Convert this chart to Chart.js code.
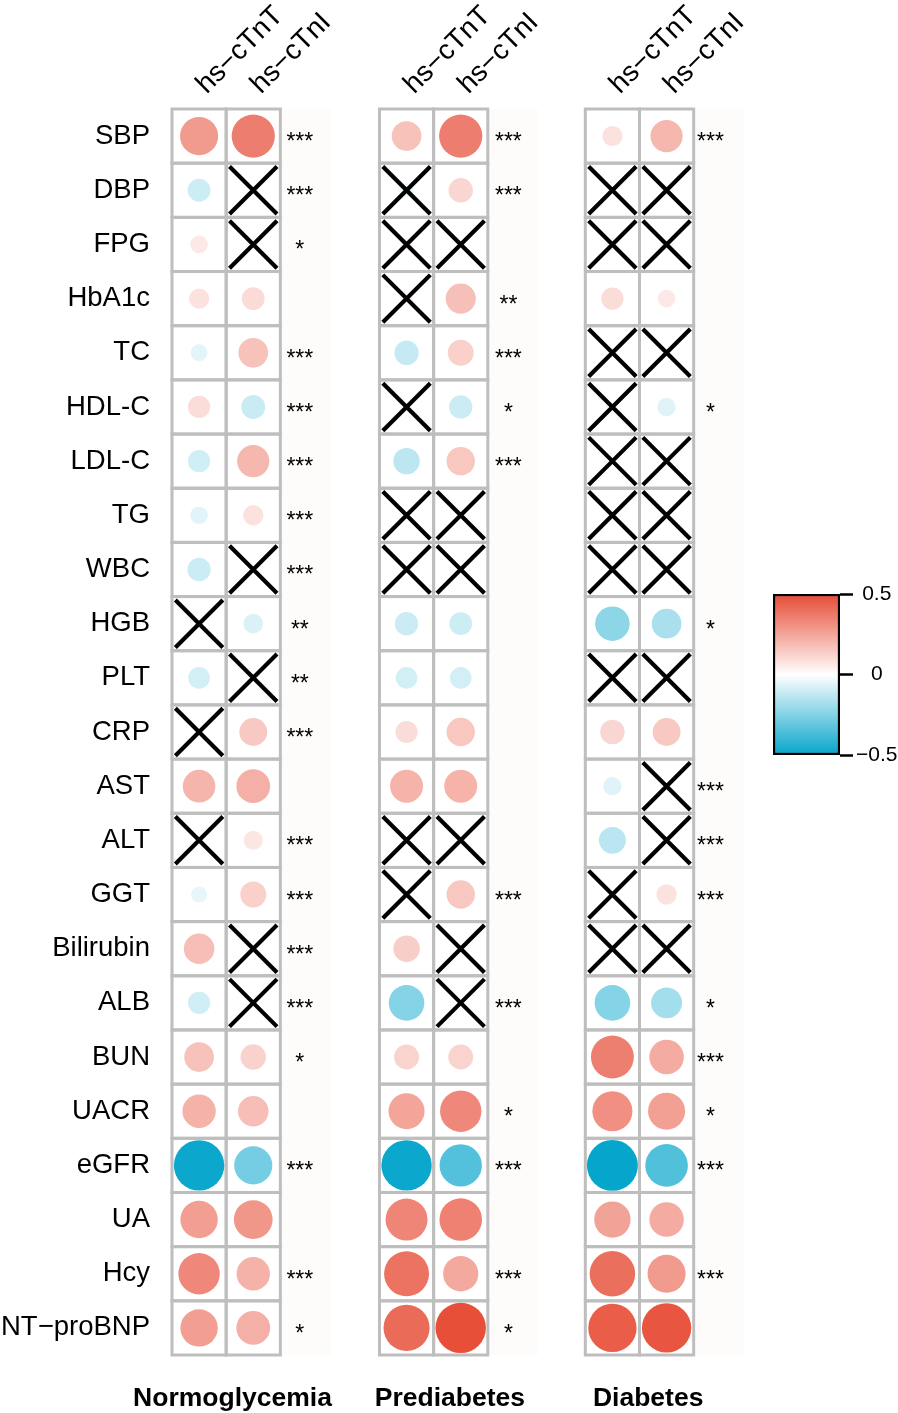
<!DOCTYPE html>
<html>
<head>
<meta charset="utf-8">
<script src="https://cdn.jsdelivr.net/npm/chart.js@4.4.1/dist/chart.umd.min.js"></script>
<style>
  html, body { margin: 0; padding: 0; background: #fff; }
  #wrap { position: relative; width: 898px; height: 1413px; }
  #main { position: absolute; left: 0; top: 0; }
  #bar { position: absolute; left: 740px; top: 570px; }
</style>
</head>
<body>
<div id="wrap">
  <canvas id="main" width="898" height="1413"></canvas>
  <canvas id="bar" width="158" height="210"></canvas>
</div>
<script>
// ── Data ─────────────────────────────────────────────────────────────────────

const rows = ['SBP', 'DBP', 'FPG', 'HbA1c', 'TC', 'HDL-C', 'LDL-C', 'TG', 'WBC', 'HGB', 'PLT', 'CRP',
  'AST', 'ALT', 'GGT', 'Bilirubin', 'ALB', 'BUN', 'UACR', 'eGFR', 'UA', 'Hcy', 'NT\u2212proBNP'];
const colLabels = ['hs\u2212cTnT', 'hs\u2212cTnI'];
const groupTitles = ['Normoglycemia', 'Prediabetes', 'Diabetes'];

// correlation coefficients, one per row
const normTnT = [0.28, -0.10, 0.06, 0.08, -0.055, 0.095, -0.095, -0.06, -0.105, 0.01, -0.09, 0.01,
  0.205, 0.01, -0.05, 0.18, -0.095, 0.17, 0.215, -0.49, 0.27, 0.33, 0.27];
const normTnI = [0.36, 0.02, 0.02, 0.10, 0.17, -0.11, 0.20, 0.08, 0.01, -0.075, 0.01, 0.15,
  0.22, 0.07, 0.13, 0.01, 0.01, 0.125, 0.18, -0.28, 0.29, 0.215, 0.22];
const preTnT = [0.17, -0.04, 0.03, 0.03, -0.115, 0.01, -0.135, 0.01, 0.02, -0.105, -0.09, 0.095,
  0.21, 0.01, 0.01, 0.135, -0.245, 0.12, 0.25, -0.49, 0.34, 0.39, 0.41];
const preTnI = [0.36, 0.115, 0.01, 0.175, 0.13, -0.105, 0.155, 0.01, 0.01, -0.10, -0.09, 0.155,
  0.21, 0.01, 0.155, 0.01, 0.01, 0.12, 0.33, -0.345, 0.35, 0.24, 0.49];
const diabTnT = [0.08, 0.01, 0.03, 0.095, 0.01, 0.01, 0.01, 0.02, 0.01, -0.23, -0.02, 0.115,
  -0.065, -0.14, 0.01, 0.01, -0.245, 0.355, 0.31, -0.50, 0.255, 0.40, 0.45];
const diabTnI = [0.20, 0.03, -0.03, 0.06, 0.01, -0.065, 0.02, 0.01, 0.02, -0.17, -0.02, 0.15,
  0.01, 0.01, 0.08, 0.01, -0.185, 0.23, 0.265, -0.35, 0.23, 0.28, 0.47];

// cells crossed out (not significant)
const normNsTnT = ['HGB', 'CRP', 'ALT'];
const normNsTnI = ['DBP', 'FPG', 'WBC', 'PLT', 'Bilirubin', 'ALB'];
const preNsTnT = ['DBP', 'FPG', 'HbA1c', 'HDL-C', 'TG', 'WBC', 'ALT', 'GGT'];
const preNsTnI = ['FPG', 'TG', 'WBC', 'ALT', 'Bilirubin', 'ALB'];
const diabNsTnT = ['DBP', 'FPG', 'TC', 'HDL-C', 'LDL-C', 'TG', 'WBC', 'PLT', 'GGT', 'Bilirubin'];
const diabNsTnI = ['DBP', 'FPG', 'TC', 'LDL-C', 'TG', 'WBC', 'PLT', 'AST', 'ALT', 'Bilirubin'];

// difference between hs-cTnT and hs-cTnI
const normStars = ['***', '***', '*', '', '***', '***', '***', '***', '***', '**', '**', '***',
  '', '***', '***', '***', '***', '*', '', '***', '', '***', '*'];
const preStars = ['***', '***', '', '**', '***', '*', '***', '', '', '', '', '',
  '', '', '***', '', '***', '', '*', '***', '', '***', '*'];
const diabStars = ['***', '', '', '', '', '*', '', '', '', '*', '', '',
  '***', '***', '***', '', '*', '***', '*', '***', '', '***', ''];

const legendMin = -0.5;
const legendMax = 0.5;
const legendTicks = [-0.5, 0, 0.5];

// ── Layout (x in cell units) ─────────────────────────────────────────────────

const FONT = '"Liberation Sans", Arial, Helvetica, sans-serif';
const panelStart = [0, 3.83, 7.63];
const starX = [2.36, 6.21, 9.94];
const titleX = [1.117, 5.13, 8.79];
const X_MAX = 10.67;
const RED = [230, 75, 53];
const BLUE = [6, 165, 203];

const panels = [
  { tnt: normTnT, tni: normTnI, nsT: normNsTnT, nsI: normNsTnI, stars: normStars },
  { tnt: preTnT, tni: preTnI, nsT: preNsTnT, nsI: preNsTnI, stars: preStars },
  { tnt: diabTnT, tni: diabTnI, nsT: diabNsTnT, nsI: diabNsTnI, stars: diabStars },
];

function corrColor(v) {
  const t = Math.min(Math.abs(v) / legendMax, 1);
  const end = v >= 0 ? RED : BLUE;
  const c = end.map(e => Math.round(255 + (e - 255) * t));
  return `rgb(${c[0]},${c[1]},${c[2]})`;
}

function cellPx(chart) {
  const x = chart.scales.x;
  return x.getPixelForValue(1) - x.getPixelForValue(0);
}

// ── Points ───────────────────────────────────────────────────────────────────

const circles = [];
const crosses = [];
const colCenters = [];
panels.forEach((p, pi) => {
  const x0 = panelStart[pi];
  colCenters.push(x0 + 0.5, x0 + 1.5);
  rows.forEach((r, i) => {
    circles.push({ x: x0 + 0.5, y: r, v: p.tnt[i] });
    circles.push({ x: x0 + 1.5, y: r, v: p.tni[i] });
  });
  p.nsT.forEach(r => crosses.push({ x: x0 + 0.5, y: r }));
  p.nsI.forEach(r => crosses.push({ x: x0 + 1.5, y: r }));
});

// ── Grid cells, strip and stars ──────────────────────────────────────────────

const cellPlugin = {
  id: 'cells',
  beforeDatasetsDraw(chart) {
    const { ctx, scales: { x, y } } = chart;
    const cw = cellPx(chart);
    const rh = (y.bottom - y.top) / rows.length;
    ctx.save();
    panelStart.forEach(p => {
      ctx.fillStyle = '#FDFCFB';
      ctx.fillRect(x.getPixelForValue(p + 2), y.top, x.getPixelForValue(p + 2.93) - x.getPixelForValue(p + 2), y.bottom - y.top);
      ctx.strokeStyle = '#BEBEBE';
      ctx.lineWidth = 3;
      rows.forEach((r, i) => {
        for (let c = 0; c < 2; c++) {
          ctx.strokeRect(x.getPixelForValue(p + c), y.getPixelForValue(i) - rh / 2, cw, rh);
        }
      });
    });
    ctx.restore();
  },
  afterDatasetsDraw(chart) {
    const { ctx, scales: { x, y } } = chart;
    ctx.save();
    ctx.font = `23px ${FONT}`;
    ctx.fillStyle = '#000';
    ctx.textAlign = 'center';
    ctx.textBaseline = 'alphabetic';
    panels.forEach((p, pi) => {
      p.stars.forEach((s, i) => {
        if (s) ctx.fillText(s, x.getPixelForValue(starX[pi]), y.getPixelForValue(i) + 13);
      });
    });
    ctx.restore();
  }
};

// ── Main chart ───────────────────────────────────────────────────────────────

new Chart(document.getElementById('main'), {
  type: 'scatter',
  data: {
    datasets: [
      {
        label: 'ns',
        data: crosses,
        pointStyle: 'crossRot',
        radius: ctx => cellPx(ctx.chart) * 0.62,
        hoverRadius: 0,
        borderColor: '#000',
        backgroundColor: '#000',
        borderWidth: 4.2,
      },
      {
        label: 'r',
        data: circles,
        pointStyle: 'circle',
        radius: ctx => ctx.raw ? cellPx(ctx.chart) / 2 * 0.94 * Math.sqrt(Math.abs(ctx.raw.v) / legendMax) : 0,
        hoverRadius: 0,
        backgroundColor: ctx => ctx.raw ? corrColor(ctx.raw.v) : '#fff',
        borderWidth: 0,
      }
    ]
  },
  options: {
    responsive: false,
    animation: false,
    events: [],
    layout: { padding: { left: 0, right: 148, top: 0, bottom: 0 } },
    plugins: { legend: { display: false }, tooltip: { enabled: false } },
    scales: {
      x: {
        type: 'linear',
        position: 'top',
        min: 0,
        max: X_MAX,
        grid: { display: false, drawTicks: false },
        border: { display: false },
        afterBuildTicks: s => { s.ticks = colCenters.map(v => ({ value: v })); },
        afterFit: s => { s.height = 109; s.paddingLeft = 0; s.paddingRight = 0; },
        ticks: {
          autoSkip: false,
          minRotation: 45,
          maxRotation: 45,
          padding: 8,
          labelOffset: 26,
          color: '#000',
          font: { size: 28, family: FONT },
          callback: (v, i) => colLabels[i % 2]
        }
      },
      x2: {
        type: 'linear',
        position: 'bottom',
        min: 0,
        max: X_MAX,
        grid: { display: false, drawTicks: false },
        border: { display: false },
        afterBuildTicks: s => { s.ticks = titleX.map(v => ({ value: v })); },
        afterFit: s => { s.height = 58; s.paddingLeft = 0; s.paddingRight = 0; },
        ticks: {
          autoSkip: false,
          maxRotation: 0,
          padding: 28,
          color: '#000',
          font: { size: 26.5, weight: 'bold', family: FONT },
          callback: (v, i) => groupTitles[i]
        }
      },
      y: {
        type: 'category',
        labels: rows,
        offset: true,
        grid: { display: false, drawTicks: false },
        border: { display: false },
        afterFit: s => { s.width = 172; s.paddingTop = 0; s.paddingBottom = 0; },
        ticks: {
          autoSkip: false,
          padding: 22,
          color: '#000',
          font: { size: 27.5, family: FONT }
        }
      }
    }
  },
  plugins: [cellPlugin]
});

// ── Colour key ───────────────────────────────────────────────────────────────

function keyGradient(ctx) {
  const { chart } = ctx;
  const area = chart.chartArea;
  if (!area) return null;
  const g = chart.ctx.createLinearGradient(0, area.bottom, 0, area.top);
  [-0.5, -0.25, 0, 0.25, 0.5].forEach(v => g.addColorStop((v - legendMin) / (legendMax - legendMin), corrColor(v)));
  return g;
}

new Chart(document.getElementById('bar'), {
  type: 'bar',
  data: {
    labels: [''],
    datasets: [{
      data: [[legendMin, legendMax]],
      backgroundColor: keyGradient,
      borderColor: '#000',
      borderWidth: 2.5,
      borderSkipped: false,
      barPercentage: 1,
      categoryPercentage: 1
    }]
  },
  options: {
    responsive: false,
    animation: false,
    events: [],
    layout: { padding: { left: 33, top: 24, bottom: 25, right: 0 } },
    plugins: { legend: { display: false }, tooltip: { enabled: false } },
    scales: {
      x: { display: false },
      y: {
        position: 'right',
        min: legendMin,
        max: legendMax,
        afterBuildTicks: s => { s.ticks = legendTicks.map(v => ({ value: v })); },
        afterFit: s => { s.width = 58; s.paddingTop = 0; s.paddingBottom = 0; },
        grid: { drawOnChartArea: false, tickLength: 13, tickColor: '#000', tickWidth: 2.5 },
        border: { display: false },
        ticks: {
          color: '#000',
          padding: 3,
          crossAlign: 'center',
          font: { size: 21, family: FONT },
          callback: v => v === 0 ? '0' : (v < 0 ? '\u2212' + Math.abs(v) : String(v))
        }
      }
    }
  }
});
</script>
</body>
</html>
